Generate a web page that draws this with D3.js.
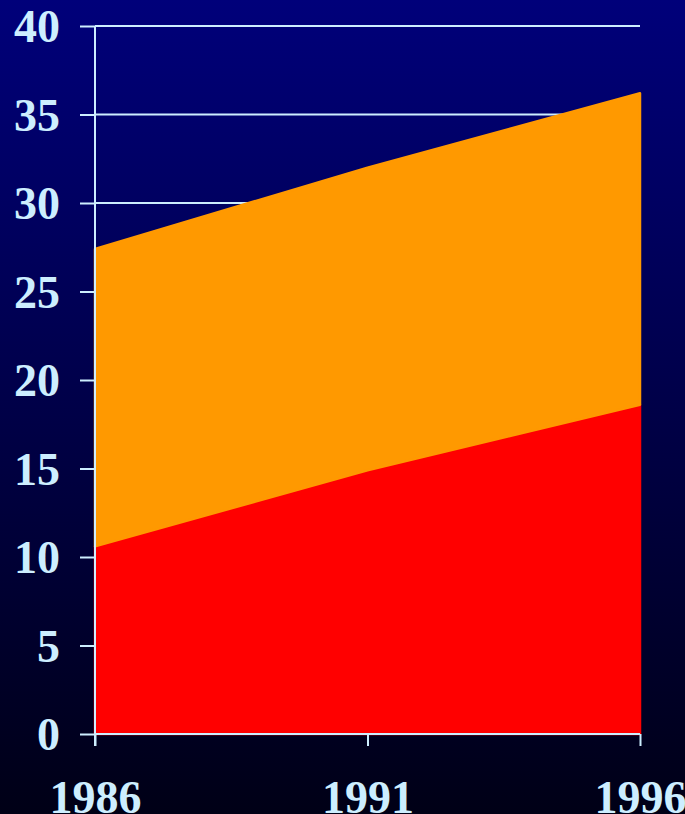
<!DOCTYPE html>
<html><head><meta charset="utf-8">
<script src="https://cdn.jsdelivr.net/npm/d3@7"></script>
<style>html,body{margin:0;padding:0;background:#000030;}svg{display:block;}</style>
</head><body>
<script>
const years = [1986, 1991, 1996];
const lowerSeries = [10.6, 14.9, 18.6];   // red
const upperSeries = [16.8, 17.1, 17.6];   // orange (stacked on red)
const yTicks = [0, 5, 10, 15, 20, 25, 30, 35, 40];
const xTicks = [1986, 1991, 1996];
const seriesColors = ["#ff0000", "#ff9900"];

const W = 685, H = 814;
const svg = d3.select("body").append("svg").attr("width", W).attr("height", H);
const defs = svg.append("defs");
const grad = defs.append("linearGradient").attr("id", "bg").attr("x1", 0).attr("y1", 0).attr("x2", 0).attr("y2", 1);
grad.append("stop").attr("offset", "0%").attr("stop-color", "#00007a");
grad.append("stop").attr("offset", "100%").attr("stop-color", "#000016");
svg.append("rect").attr("width", W).attr("height", H).attr("fill", "url(#bg)");

const x = d3.scaleLinear().domain([1986, 1996]).range([95, 640]);
const y = d3.scaleLinear().domain([0, 40]).range([734, 26]);
const axisColor = "#cdeeff";

// gridlines (behind areas)
svg.append("g").selectAll("line").data(yTicks.filter(d => d > 0)).join("line")
  .attr("x1", x(1986)).attr("x2", x(1996))
  .attr("y1", d => y(d)).attr("y2", d => y(d))
  .attr("stroke", axisColor).attr("stroke-width", 2);

// stacked areas
const table = years.map((yr, i) => ({year: yr, a: lowerSeries[i], b: upperSeries[i]}));
const stacked = d3.stack().keys(["a", "b"])(table);
const area = d3.area().x(d => x(d.data.year)).y0(d => y(d[0])).y1(d => y(d[1]));
svg.append("g").selectAll("path").data(stacked).join("path")
  .attr("d", area)
  .attr("fill", (d, i) => seriesColors[i])
  .attr("stroke", (d, i) => seriesColors[i])
  .attr("stroke-width", 2.5)
  .attr("stroke-linejoin", "round");

// y axis
const yAxis = d3.axisLeft(y).tickValues(yTicks).tickSize(15).tickPadding(20).tickFormat(d3.format("d"));
const gy = svg.append("g").attr("transform", `translate(${x(1986)},0)`).call(yAxis);
gy.select(".domain").remove();
gy.selectAll(".tick line").attr("stroke", axisColor).attr("stroke-width", 2);
gy.selectAll(".tick text").attr("fill", axisColor)
  .style("font-family", "'Liberation Serif','Times New Roman',serif")
  .style("font-weight", "bold").style("font-size", "46px").attr("dy", "0.34em");
svg.append("line").attr("x1", x(1986)).attr("x2", x(1986)).attr("y1", y(40)).attr("y2", y(0) + 12)
  .attr("stroke", axisColor).attr("stroke-width", 2);

// x axis
const xAxis = d3.axisBottom(x).tickValues(xTicks).tickSize(12).tickPadding(34).tickFormat(d3.format("d"));
const gx = svg.append("g").attr("transform", `translate(0,${y(0)})`).call(xAxis);
gx.select(".domain").remove();
gx.selectAll(".tick line").attr("stroke", axisColor).attr("stroke-width", 2);
gx.selectAll(".tick text").attr("fill", axisColor)
  .style("font-family", "'Liberation Serif','Times New Roman',serif")
  .style("font-weight", "bold").style("font-size", "46px").attr("dy", "0.71em");
svg.append("line").attr("x1", x(1986)).attr("x2", x(1996)).attr("y1", y(0)).attr("y2", y(0))
  .attr("stroke", axisColor).attr("stroke-width", 2);
</script>
</body></html>
